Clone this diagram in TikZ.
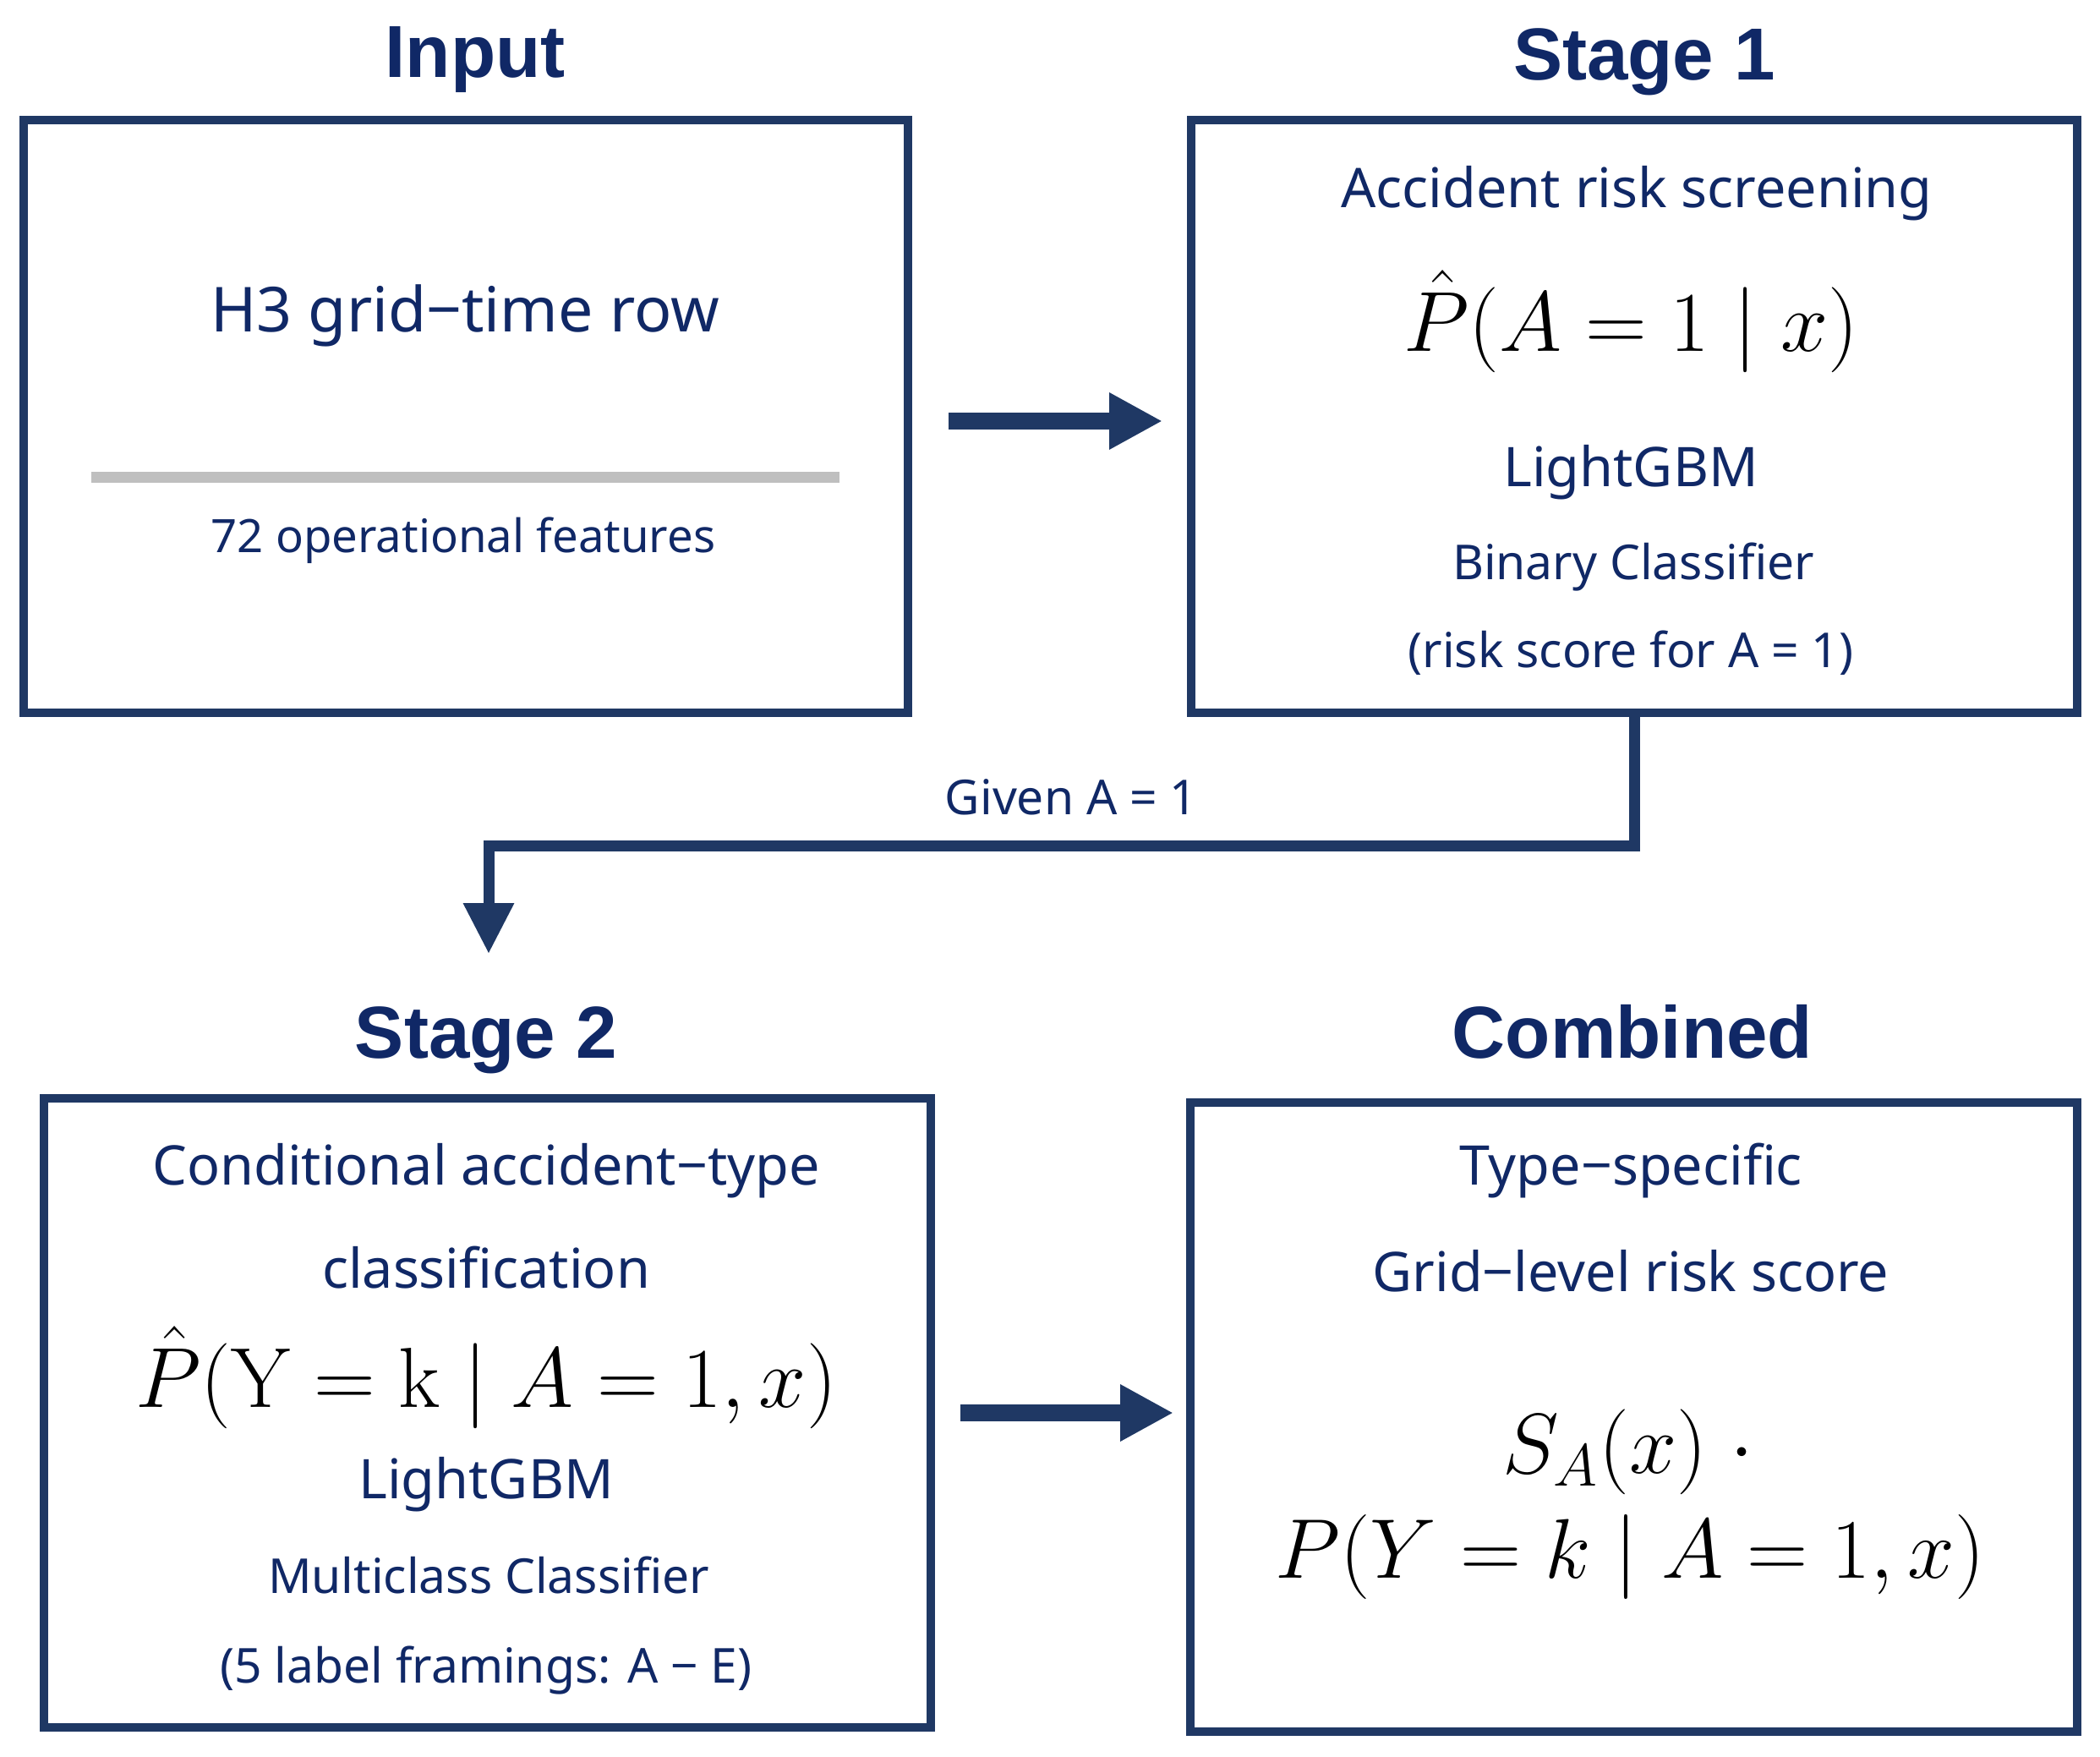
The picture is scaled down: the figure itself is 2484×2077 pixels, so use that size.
\RequirePackage{fix-cm}
\documentclass[tikz,border=0pt]{standalone}
\usepackage[no-math]{fontspec}
\setmainfont{Noto Sans}
\newfontfamily\headfont{Liberation Sans}
\usepackage{amsmath}
\usetikzlibrary{arrows.meta}
\definecolor{navytext}{RGB}{16,40,102}
\definecolor{navyline}{RGB}{31,56,100}
\definecolor{rulegray}{RGB}{191,191,191}
\tikzset{>=latex}
\tikzset{
  box/.style={draw=navyline, line width=1mm, inner sep=0pt, outer sep=0pt},
  title/.style={anchor=base, inner sep=0pt, text=navytext, font=\headfont\fontsize{24.8}{29}\selectfont\bfseries},
  lead/.style={anchor=base, inner sep=0pt, text=navytext, font=\fontsize{18.4}{22}\selectfont},
  note/.style={anchor=base, inner sep=0pt, text=navytext, font=\fontsize{16.2}{20}\selectfont},
  formula/.style={anchor=base, inner sep=0pt, text=black, font=\fontsize{28.7}{33}\selectfont},
  flow/.style={draw=navyline, line width=2mm, -{Triangle[length=6.3mm,width=6.3mm]}},
  link/.style={draw=navyline, line width=1.3mm, -{Triangle[length=6mm,width=5.7mm]}},
}

\begin{document}
\begin{tikzpicture}[x=0.1mm, y=-0.1mm]
\useasboundingbox (0,0) rectangle (2484,2077);
% boxes
\node[box, minimum width=104.6mm, minimum height=70.1mm] (input) at (551,492.5) {};
\node[box, minimum width=104.8mm, minimum height=70.1mm] (stage1) at (1933,492.5) {};
\node[box, minimum width=104.9mm, minimum height=74.4mm] (stage2) at (576.5,1671) {};
\node[box, minimum width=104.9mm, minimum height=74.4mm] (comb) at (1932.5,1676) {};
% titles
\node[title] (tinput) at (562,92) {Input};
\node[title] (tstage1) at (1945,95) {Stage 1};
\node[title] (tstage2) at (575,1251) {Stage 2};
\node[title] (tcomb) at (1931,1251) {Combined};
% input
\node[anchor=base, inner sep=0pt, text=navytext, font=\fontsize{20.9}{25}\selectfont] (row) at (550,393) {H3 grid−time row};
\draw[rulegray, line width=1.3mm] (108,564) -- (993,564);
\node[anchor=base, inner sep=0pt, text=navytext, font=\fontsize{15.5}{19}\selectfont] (feat) at (548,653) {72 operational features};
% stage 1
\node[lead] (screen) at (1936,246) {Accident risk screening};
\node[formula] (pa) at (1929,415) {$\hat{P}(A=1\mid x)$};
\node[lead] (gbm1) at (1929,575) {LightGBM};
\node[note] (bin) at (1932,685) {Binary Classifier};
\node[note] (risk) at (1929,789) {(risk score for A = 1)};
% stage 2
\node[lead] (cond) at (575,1401) {Conditional accident−type};
\node[lead] (cls) at (575,1523) {classification};
\node[formula] (py) at (575,1664) {$\hat{P}(\mathrm{Y}=\mathrm{k}\mid A=1,x)$};
\node[lead] (gbm2) at (575,1772) {LightGBM};
\node[note] (multi) at (578,1884) {Multiclass Classifier};
\node[note] (frame) at (575,1990) {(5 label framings: A − E)};
% combined
\node[lead] (type) at (1929,1401) {Type−specific};
\node[lead] (grid) at (1929,1527) {Grid−level risk score};
\node[formula] (sa) at (1926,1742) {$S_A(x)\;{\cdot}$};
\node[formula, font=\fontsize{28.5}{33}\selectfont] (pyk) at (1928,1866) {$P(Y=k\mid A=1,x)$};
% connectors
\draw[flow, shorten <=4.8mm, shorten >=3.4mm] ([yshift=-0.55mm]input.east) -- ([yshift=-0.55mm]stage1.west);
\coordinate (s2top) at (578,1128);
\draw[link] (stage1.south) -- ++(0,157) -| (s2top);
\node[note] (given) at (1267,963) {Given A = 1};
\draw[flow, shorten <=3.5mm, shorten >=2mm] (stage2.east) -- (stage2.east -| comb.west);
\end{tikzpicture}
\end{document}
